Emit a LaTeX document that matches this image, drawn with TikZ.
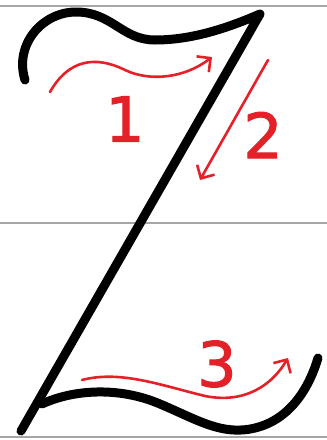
\documentclass[tikz,border=0pt]{standalone}
\usepackage{fontspec}
\newfontfamily\digitfont[FakeBold=1.6]{DejaVu Sans}
\usetikzlibrary{arrows.meta}

\begin{document}
\begin{tikzpicture}[x=1pt,y=-1pt,
  guide/.style={draw=gray!70,line width=2pt},
  letter/.style={line width=9pt,line cap=round,line join=round},
  hint/.style={draw=hintred,line width=2.6pt,line cap=round,
    -{Straight Barb[length=10pt,width=20pt,line width=2.6pt]}},
  num/.style={text=hintred,font=\digitfont\fontsize{62}{62}\selectfont,inner sep=0pt}]
\definecolor{hintred}{RGB}{228,32,40}
\useasboundingbox (0,0) rectangle (327,440);
% guide lines
\draw[guide] (0,6) -- (327,6);
\draw[guide] (0,222.5) -- (327,222.5);
\draw[guide] (0,437) -- (327,437);
% the letter
\coordinate (topleft) at (25,80);
\coordinate (corner) at (260,14);
\coordinate (foot) at (21,431);
\coordinate (join) at (42,404);
\coordinate (tail) at (318,358);
\draw[letter] (topleft) .. controls (14,45) and (42,12) .. (76,12)
  .. controls (112,12) and (122,40) .. (155,40)
  .. controls (195,40) and (232,26) .. (corner) -- (foot);
\draw[letter] (join) .. controls (72,390) and (118,386) .. (160,404)
  .. controls (198,420) and (222,436) .. (255,428)
  .. controls (292,419) and (310,385) .. (tail);
% stroke order hints
\coordinate (s1) at (50,92);
\coordinate (e1) at (212,57);
\draw[hint] (s1) .. controls (68,60) and (95,55) .. (125,70)
  .. controls (150,82) and (185,78) .. (e1);
\coordinate (s2) at (268,60);
\coordinate (e2) at (200,180);
\draw[hint] (s2) -- (e2);
\coordinate (s3) at (82,380);
\coordinate (e3) at (288,358);
\draw[hint] (s3) .. controls (120,370) and (160,385) .. (205,396)
  .. controls (245,404) and (272,385) .. (e3);
\node[num] (one) at (125,119) {1};
\node[num] (two) at (263,135) {2};
\node[num] (three) at (217,364) {3};
\end{tikzpicture}
\end{document}
